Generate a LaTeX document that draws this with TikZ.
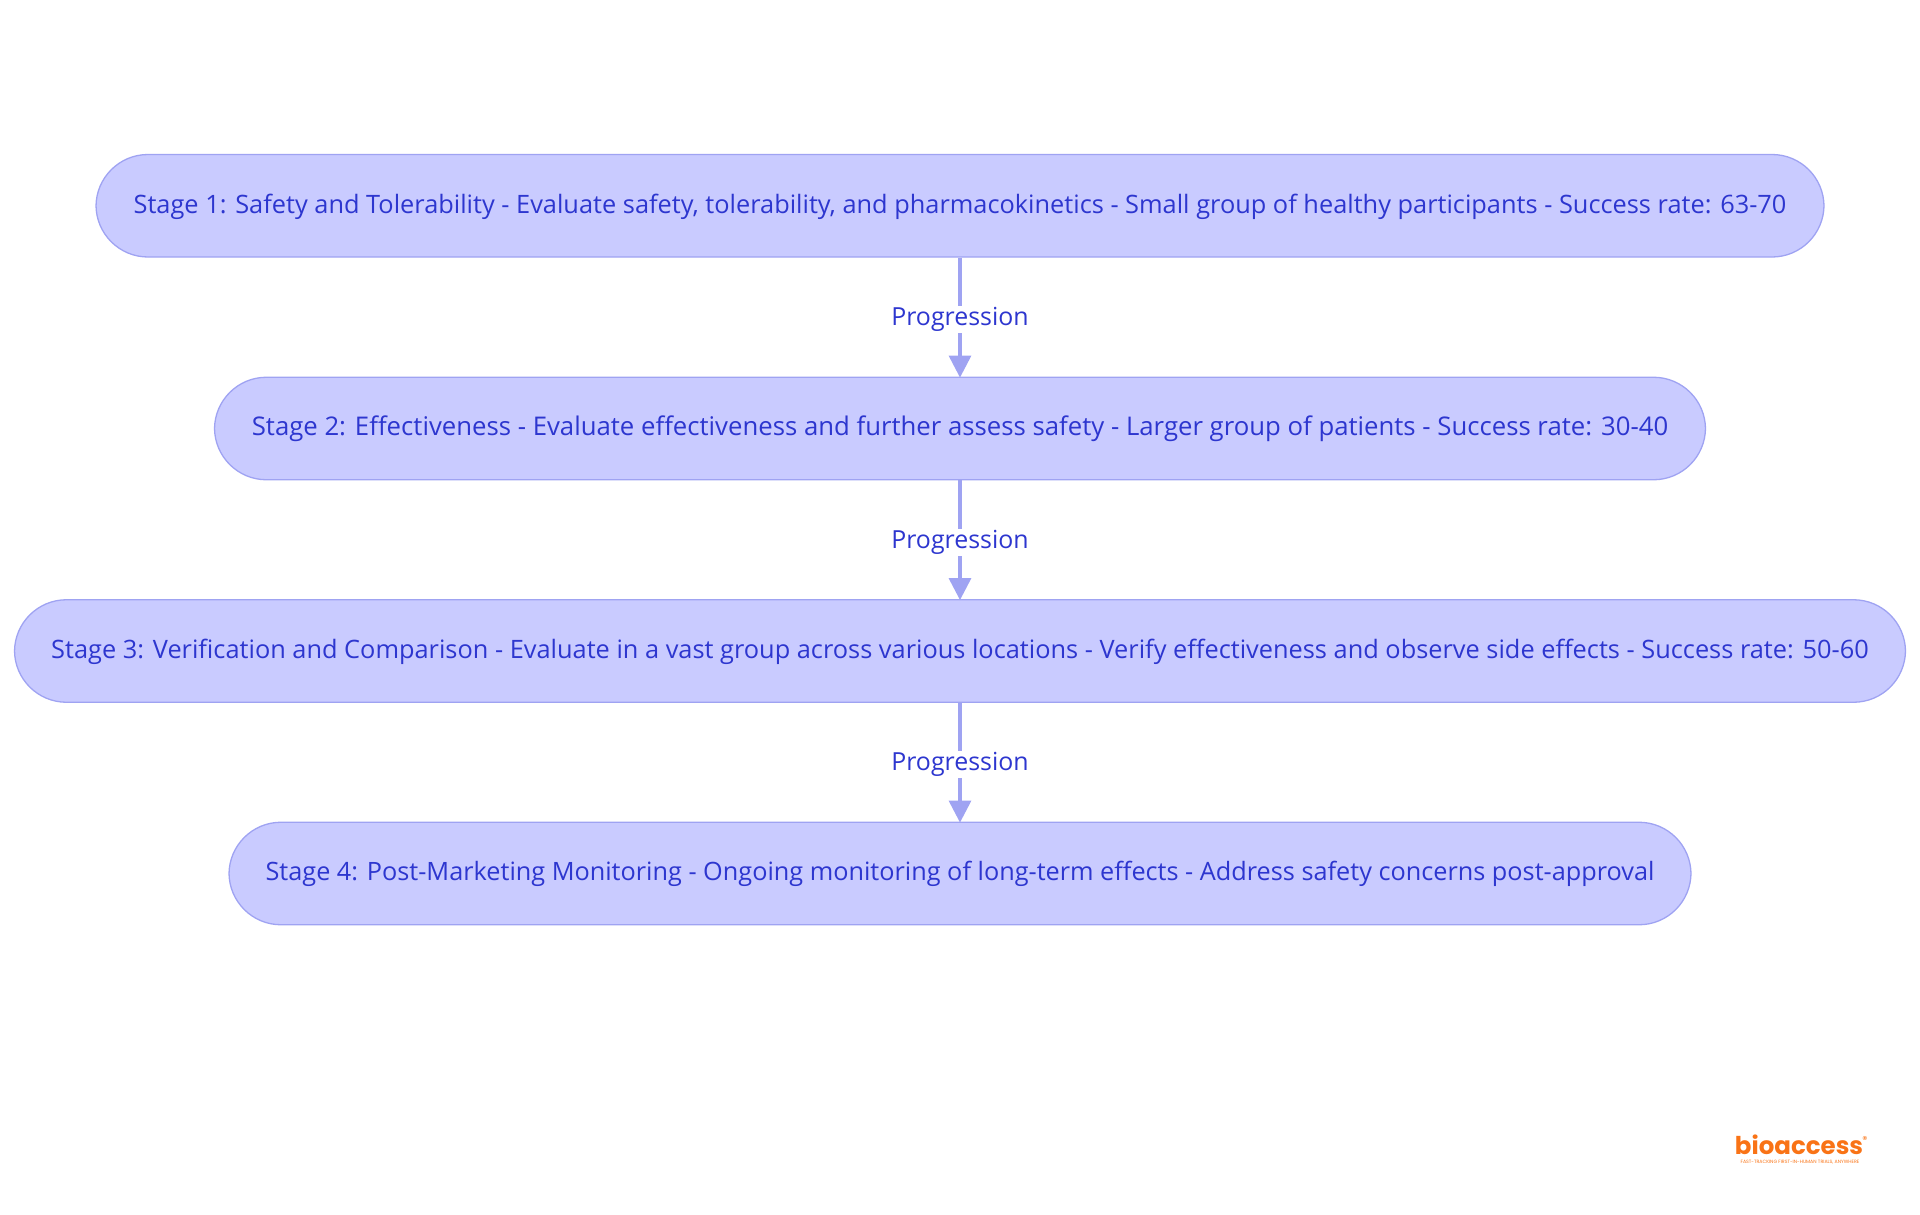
\documentclass[tikz,border=0pt]{standalone}
\usepackage{fontspec}
\setmainfont{Open Sans}
\newfontfamily\logofont{Poppins}
\usetikzlibrary{arrows.meta}
\definecolor{nodefill}{HTML}{C9CBFF}
\definecolor{nodeline}{HTML}{9FA3F2}
\definecolor{inktext}{HTML}{2D36CF}
\definecolor{logoorange}{HTML}{F97316}
\tikzset{
  x=1pt,y=-1pt,
  stagebox/.style={draw=nodeline,fill=nodefill,line width=1.3pt,rounded corners=52pt,anchor=center,inner sep=0pt,minimum height=102.5pt},
  stagetext/.style={text=inktext,inner sep=0pt,anchor=center},
  flow/.style={draw=nodeline,line width=3.2pt,-{Triangle[length=22pt,width=22pt]},shorten >=-1pt},
  flowlabel/.style={fill=white,text=inktext,font=\fontsize{24.9}{30}\selectfont,inner xsep=0pt,inner ysep=1.5pt,yshift=-2.5pt},
}
\begin{document}
\begin{tikzpicture}
\useasboundingbox (0,0) rectangle (1920,1215);
\node[stagebox,minimum width=1728pt] (s1) at (960,205.75) {};
\node[stagebox,minimum width=1491pt] (s2) at (960,428.5) {};
\node[stagebox,minimum width=1891pt] (s3) at (960,651) {};
\node[stagebox,minimum width=1462pt] (s4) at (960,873.5) {};
\node[stagetext,font=\fontsize{25.35}{30}\selectfont] (t1) at (960,206.5) {Stage 1: Safety and Tolerability - Evaluate safety, tolerability, and pharmacokinetics - Small group of healthy participants - Success rate: 63-70};
\node[stagetext,font=\fontsize{25.73}{30}\selectfont] (t2) at (960,429) {Stage 2: Effectiveness - Evaluate effectiveness and further assess safety - Larger group of patients - Success rate: 30-40};
\node[stagetext,font=\fontsize{25.35}{30}\selectfont] (t3) at (960,651.5) {Stage 3: Verification and Comparison - Evaluate in a vast group across various locations - Verify effectiveness and observe side effects - Success rate: 50-60};
\node[stagetext,font=\fontsize{25.26}{30}\selectfont] (t4) at (960,874) {Stage 4: Post-Marketing Monitoring - Ongoing monitoring of long-term effects - Address safety concerns post-approval};
\draw[flow] (s1) -- node[flowlabel] (l1) {Progression} (s2);
\draw[flow] (s2) -- node[flowlabel] (l2) {Progression} (s3);
\draw[flow] (s3) -- node[flowlabel] (l3) {Progression} (s4);
\node[text=logoorange,font=\logofont\bfseries\fontsize{24.5}{26}\selectfont,inner sep=0pt] (logo) at (1799,1145) {bioaccess};
\node[text=logoorange,font=\logofont\fontsize{10}{11}\selectfont,inner sep=0pt] (rmark) at (1865,1140) {®};
\node[text=logoorange,font=\logofont\fontsize{4.7}{5}\selectfont,inner sep=0pt] (tag) at (1800,1162.5) {FAST-TRACKING FIRST-IN-HUMAN TRIALS, ANYWHERE};
\end{tikzpicture}
\end{document}
